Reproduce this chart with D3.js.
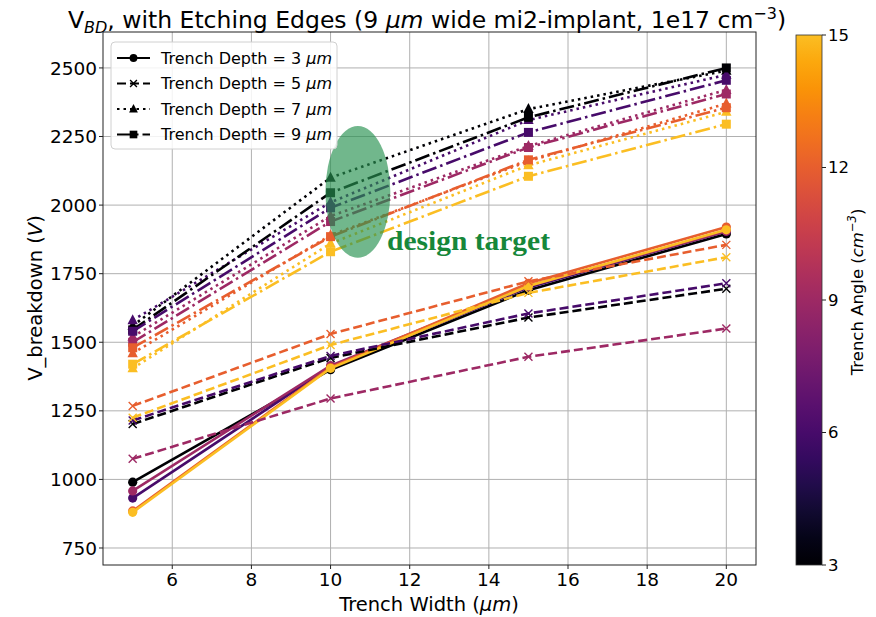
<!DOCTYPE html>
<html><head><meta charset="utf-8">
<script src="https://cdn.jsdelivr.net/npm/d3@7"></script>
<style>body{margin:0;background:#fff} text{font-family:"DejaVu Sans",sans-serif}</style>
</head><body><svg id="c" width="876" height="617"></svg>
<script>
// ---- data ----
const widths = [5, 10, 15, 20];
const angles = [3, 6, 9, 12, 15];
const depths = [3, 5, 7, 9];
// values per angle (3,6,9,12,15) at widths 5,10,15,20
const depth3 = [[990,1400,1690,1895],[932,1410,1700,1905],[958,1415,1705,1905],[885,1408,1715,1920],[880,1405,1705,1910]];
const depth5 = [[1202,1443,1590,1695],[1215,1450,1605,1715],[1075,1295,1447,1550],[1268,1530,1722,1855],[1225,1490,1680,1810]];
const depth7 = [[1560,2100,2350,2490],[1580,2010,2310,2475],[1520,1960,2215,2420],[1460,1890,2160,2370],[1405,1860,2145,2340]];
const depth9 = [[1545,2045,2320,2500],[1540,1990,2265,2455],[1500,1940,2210,2405],[1480,1885,2165,2355],[1420,1830,2105,2295]];
const xTicks = [6, 8, 10, 12, 14, 16, 18, 20];
const yTicks = [750, 1000, 1250, 1500, 1750, 2000, 2250, 2500];
const cbTicks = [3, 6, 9, 12, 15];
const target = {x: 10.69, y: 2048, rx: 0.82, ry: 240, label: "design target"};

const depthData = [depth3, depth5, depth7, depth9];
const styles = [
  {dash: null, marker: "circle"},
  {dash: "9,4", marker: "x"},
  {dash: "2.5,4", marker: "triangle"},
  {dash: "15,4,2.5,4", marker: "square"}
];

const svg = d3.select("#c");
const x = d3.scaleLinear().domain([4.25, 20.75]).range([103, 756]);
const y = d3.scaleLinear().domain([688, 2631]).range([565, 32]);
const cmap = v => d3.interpolateInferno((v - 3) / 12 * 0.85);

// grid
svg.append("g").selectAll("line").data(xTicks).join("line")
  .attr("x1", d => x(d)).attr("x2", d => x(d)).attr("y1", 32).attr("y2", 565)
  .attr("stroke", "#b0b0b0").attr("stroke-width", 1);
svg.append("g").selectAll("line").data(yTicks).join("line")
  .attr("y1", d => y(d)).attr("y2", d => y(d)).attr("x1", 103).attr("x2", 756)
  .attr("stroke", "#b0b0b0").attr("stroke-width", 1);

function marker(g, type, cx, cy, color, s) {
  s = s || 1;
  if (type === "circle") g.append("circle").attr("cx", cx).attr("cy", cy).attr("r", 4.6 * s).attr("fill", color);
  else if (type === "square") g.append("rect").attr("x", cx - 4.5 * s).attr("y", cy - 4.5 * s).attr("width", 9 * s).attr("height", 9 * s).attr("fill", color);
  else if (type === "triangle") g.append("path").attr("d", `M${cx},${cy - 6 * s}L${cx + 5.2 * s},${cy + 4 * s}L${cx - 5.2 * s},${cy + 4 * s}Z`).attr("fill", color);
  else if (type === "x") g.append("path").attr("d", `M${cx - 4 * s},${cy - 4 * s}L${cx + 4 * s},${cy + 4 * s}M${cx - 4 * s},${cy + 4 * s}L${cx + 4 * s},${cy - 4 * s}`).attr("stroke", color).attr("stroke-width", 1.4).attr("fill", "none");
}

const line = d3.line().x((d, i) => x(widths[i])).y(d => y(d));
const plot = svg.append("g");
depthData.forEach((dd, di) => {
  dd.forEach((vals, ai) => {
    const col = cmap(angles[ai]);
    const g = plot.append("g");
    g.append("path").attr("d", line(vals)).attr("fill", "none").attr("stroke", col)
      .attr("stroke-width", 2.6).attr("stroke-dasharray", styles[di].dash);
    vals.forEach((v, i) => marker(g, styles[di].marker, x(widths[i]), y(v), col));
  });
});

// design target ellipse
svg.append("ellipse").attr("cx", x(target.x)).attr("cy", y(target.y))
  .attr("rx", x(target.x + target.rx) - x(target.x)).attr("ry", y(target.y - target.ry) - y(target.y))
  .attr("fill", "rgb(40,145,80)").attr("opacity", 0.66);
svg.append("text").attr("x", 387).attr("y", 250).text(target.label)
  .style("font-family", "'Liberation Serif', serif").attr("font-weight", "bold")
  .attr("font-size", 26.5).attr("textLength", 163).attr("lengthAdjust", "spacingAndGlyphs")
  .attr("fill", "#16873a");

// frame
svg.append("rect").attr("x", 103).attr("y", 32).attr("width", 653).attr("height", 533)
  .attr("fill", "none").attr("stroke", "#222").attr("stroke-width", 1);

// axes ticks
const yAx = svg.append("g");
yTicks.forEach(t => {
  yAx.append("line").attr("x1", 99).attr("x2", 103).attr("y1", y(t)).attr("y2", y(t)).attr("stroke", "#222");
  yAx.append("text").attr("x", 97).attr("y", y(t)).attr("dy", "0.36em").attr("text-anchor", "end")
    .attr("font-size", 18.5).text(t);
});
const xAx = svg.append("g");
xTicks.forEach(t => {
  xAx.append("line").attr("x1", x(t)).attr("x2", x(t)).attr("y1", 565).attr("y2", 569).attr("stroke", "#222");
  xAx.append("text").attr("x", x(t)).attr("y", 586).attr("text-anchor", "middle")
    .attr("font-size", 18.5).text(t);
});

// axis labels
const xl = svg.append("text").attr("x", 429).attr("y", 611).attr("text-anchor", "middle").attr("font-size", 19.5);
xl.append("tspan").text("Trench Width (");
xl.append("tspan").attr("font-style", "italic").text("μm");
xl.append("tspan").text(")");
const yl = svg.append("text").attr("transform", "translate(42,298) rotate(-90)").attr("text-anchor", "middle").attr("font-size", 19.5);
yl.append("tspan").text("V_breakdown (");
yl.append("tspan").attr("font-style", "italic").text("V");
yl.append("tspan").text(")");

// title
const tt = svg.append("text").attr("x", 427).attr("y", 28).attr("text-anchor", "middle").attr("font-size", 23.5);
tt.append("tspan").text("V");
tt.append("tspan").attr("font-style", "italic").attr("font-size", 16).attr("dy", 5).text("BD");
tt.append("tspan").attr("dy", -5).text(", with Etching Edges (9 ");
tt.append("tspan").attr("font-style", "italic").text("μm");
tt.append("tspan").text(" wide mi2-implant, 1e17 cm");
tt.append("tspan").attr("font-size", 16).attr("dy", -9).text("−3");
tt.append("tspan").attr("dy", 9).text(")");

// legend
const lg = svg.append("g");
lg.append("rect").attr("x", 111).attr("y", 42).attr("width", 226).attr("height", 107).attr("rx", 4)
  .attr("fill", "rgba(255,255,255,0.85)").attr("stroke", "#d0d0d0");
depths.forEach((d, i) => {
  const ly = 58 + i * 25.5;
  lg.append("line").attr("x1", 117).attr("x2", 150).attr("y1", ly).attr("y2", ly)
    .attr("stroke", "#000").attr("stroke-width", 2).attr("stroke-dasharray", styles[i].dash);
  marker(lg, styles[i].marker, 133.5, ly, "#000", 0.85);
  const t = lg.append("text").attr("x", 161).attr("y", ly).attr("dy", "0.36em").attr("font-size", 16);
  t.append("tspan").text(`Trench Depth = ${d} `);
  t.append("tspan").attr("font-style", "italic").text("μm");
});

// colorbar
const cb = d3.scaleLinear().domain([3, 15]).range([565, 35]);
const defs = svg.append("defs");
const grad = defs.append("linearGradient").attr("id", "cbg").attr("x1", 0).attr("y1", 1).attr("x2", 0).attr("y2", 0);
d3.range(0, 1.0001, 0.05).forEach(s => grad.append("stop").attr("offset", s).attr("stop-color", cmap(3 + s * 12)));
svg.append("rect").attr("x", 796).attr("y", cb(15)).attr("width", 26).attr("height", cb(3) - cb(15))
  .attr("fill", "url(#cbg)").attr("stroke", "#333").attr("stroke-width", 0.8);
cbTicks.forEach(t => {
  svg.append("line").attr("x1", 822).attr("x2", 826).attr("y1", cb(t)).attr("y2", cb(t)).attr("stroke", "#222");
  svg.append("text").attr("x", 828).attr("y", cb(t)).attr("dy", "0.36em").attr("font-size", 16.5).text(t);
});
const cl = svg.append("text").attr("transform", "translate(863,292) rotate(-90)").attr("text-anchor", "middle").attr("font-size", 16.5);
cl.append("tspan").text("Trench Angle (");
cl.append("tspan").attr("font-style", "italic").text("cm");
cl.append("tspan").attr("font-style", "italic").attr("font-size", 11.5).attr("dy", -7).text("−3");
cl.append("tspan").attr("dy", 7).text(")");
</script></body></html>
